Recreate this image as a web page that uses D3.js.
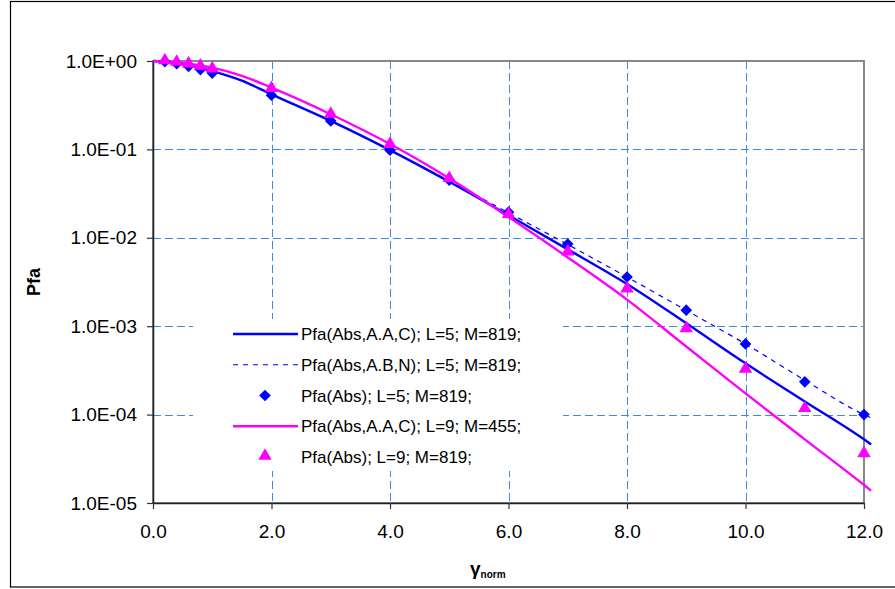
<!DOCTYPE html>
<html>
<head>
<meta charset="utf-8">
<script src="https://cdn.jsdelivr.net/npm/d3@7"></script>
<style>
  body { margin: 0; background: #fff; }
  svg { display: block; font-family: "Liberation Sans", Arial, sans-serif; }
</style>
</head>
<body>
<svg id="chart" width="895" height="589"></svg>
<script>
// ---- data ----
var xTicks = [0, 2, 4, 6, 8, 10, 12];
var yTicks = [1, 1e-1, 1e-2, 1e-3, 1e-4, 1e-5];

var markX = [0.2, 0.4, 0.6, 0.8, 1.0, 2, 3, 4, 5, 6, 7, 8, 9, 10, 11, 12];
// Pfa(Abs); L=5; M=819;  (diamonds)
var pfaL5 = [0.985, 0.93, 0.87, 0.8, 0.73, 0.41, 0.21, 0.098, 0.045, 0.0195, 0.0085, 0.0036, 0.00152, 0.00063, 0.000235, 0.0001];
// Pfa(Abs); L=9; M=819;  (triangles)
var pfaL9 = [0.99, 0.95, 0.91, 0.86, 0.8, 0.48, 0.245, 0.112, 0.046, 0.018, 0.0068, 0.0026, 0.00092, 0.00032, 0.000115, 0.0000355];

var lineX = [0, 0.5, 1, 1.5, 2, 3, 4, 5, 6, 7, 8, 9, 10, 11, 12, 12.12];
// Pfa(Abs,A.A,C); L=5; M=819;
var aacL5 = [1.0, 0.93, 0.77, 0.6, 0.42, 0.21, 0.098, 0.043, 0.018, 0.0074, 0.003, 0.00108, 0.00038, 0.000141, 0.0000525, 0.000046];
// Pfa(Abs,A.B,N); L=5; M=819;
var abnL5 = [1.0, 0.93, 0.77, 0.6, 0.42, 0.21, 0.098, 0.044, 0.0192, 0.0084, 0.0036, 0.00151, 0.00063, 0.000245, 0.0001, 0.000092];
// Pfa(Abs,A.A,C); L=9; M=455;
var aacL9 = [1.0, 0.95, 0.84, 0.68, 0.5, 0.25, 0.115, 0.047, 0.0172, 0.006, 0.002, 0.00059, 0.000174, 0.0000525, 0.000016, 0.0000138];

var legendNames = [
  "Pfa(Abs,A.A,C); L=5; M=819;",
  "Pfa(Abs,A.B,N); L=5; M=819;",
  "Pfa(Abs); L=5; M=819;",
  "Pfa(Abs,A.A,C); L=9; M=455;",
  "Pfa(Abs); L=9; M=819;"
];

var blue = "#0000ff", magenta = "#ff00ff", gridCol = "#3d8ae0";

var svg = d3.select("#chart");
var pLeft = 153, pRight = 864, pTop = 61, pBottom = 503;

var x = d3.scaleLinear().domain([0, 12]).range([pLeft, pRight]);
var y = d3.scaleLog().domain([1e-5, 1]).range([pBottom, pTop]);

// crisp 1px positions
function px(v) { return Math.round(v) + 0.5; }

// outer frame
svg.append("rect")
  .attr("x", 10.5).attr("y", 1.5)
  .attr("width", 890).attr("height", 585.5)
  .attr("fill", "none").attr("stroke", "#000").attr("stroke-width", 1.2);

// gridlines
svg.append("g").selectAll("line").data(xTicks.filter(function(d){ return d > 0 && d < 12; }))
  .enter().append("line")
  .attr("x1", function(d){ return px(x(d)); }).attr("x2", function(d){ return px(x(d)); })
  .attr("y1", pTop).attr("y2", pBottom)
  .attr("stroke", gridCol).attr("stroke-width", 1).attr("stroke-dasharray", "8,4");

svg.append("g").selectAll("line").data(yTicks.filter(function(d){ return d < 1 && d > 1e-5; }))
  .enter().append("line")
  .attr("y1", function(d){ return px(y(d)); }).attr("y2", function(d){ return px(y(d)); })
  .attr("x1", pLeft).attr("x2", pRight)
  .attr("stroke", gridCol).attr("stroke-width", 1).attr("stroke-dasharray", "8,4");

// plot area border (top / right grey)
svg.append("rect")
  .attr("x", pLeft).attr("y", pTop)
  .attr("width", pRight - pLeft).attr("height", pBottom - pTop)
  .attr("fill", "none").attr("stroke", "#888").attr("stroke-width", 2);

// axes
var fmtE = function(d) {
  var e = Math.round(Math.log10(d));
  var s = Math.abs(e) < 10 ? "0" + Math.abs(e) : "" + Math.abs(e);
  return "1.0E" + (e < 0 ? "-" : "+") + s;
};

var yAxis = svg.append("g")
  .attr("transform", "translate(" + pLeft + ",0)")
  .call(d3.axisLeft(y).tickValues(yTicks).tickFormat(fmtE).tickSizeInner(6).tickSizeOuter(0).tickPadding(10));

var xAxis = svg.append("g")
  .attr("transform", "translate(0," + pBottom + ")")
  .call(d3.axisBottom(x).tickValues(xTicks).tickFormat(d3.format(".1f")).tickSizeInner(6).tickSizeOuter(0).tickPadding(16));

[yAxis, xAxis].forEach(function(g) {
  g.selectAll("text").attr("font-size", 19).attr("fill", "#000")
    .attr("font-family", "'Liberation Sans', Arial, sans-serif");
  g.selectAll("line").attr("stroke", "#333").attr("stroke-width", 1.2);
  g.select(".domain").attr("stroke", "#222").attr("stroke-width", 1.5);
});

// axis titles
svg.append("text")
  .attr("transform", "translate(40,282) rotate(-90)")
  .attr("text-anchor", "middle")
  .attr("font-size", 18).attr("font-weight", "bold")
  .text("Pfa");

var xt = svg.append("text")
  .attr("x", 470).attr("y", 575)
  .attr("font-weight", "bold");
xt.append("tspan").attr("font-size", 19).text("γ");
xt.append("tspan").attr("font-size", 10).attr("dy", 3).text("norm");

// series lines
function lineOf(vals) {
  return d3.line()
    .x(function(d, i){ return x(lineX[i]); })
    .y(function(d){ return y(d); })
    .curve(d3.curveMonotoneX)(vals);
}

svg.append("path").attr("d", lineOf(abnL5))
  .attr("fill", "none").attr("stroke", blue).attr("stroke-width", 1.2).attr("stroke-dasharray", "5,5");
svg.append("path").attr("d", lineOf(aacL5))
  .attr("fill", "none").attr("stroke", blue).attr("stroke-width", 2.4);
svg.append("path").attr("d", lineOf(aacL9))
  .attr("fill", "none").attr("stroke", magenta).attr("stroke-width", 2.4);

// markers
var diamond = d3.symbol().type(d3.symbolSquare).size(68);
var triangle = d3.symbol().type(d3.symbolTriangle).size(78);

svg.append("g").selectAll("path").data(pfaL5).enter().append("path")
  .attr("d", diamond)
  .attr("transform", function(d, i){ return "translate(" + x(markX[i]) + "," + y(d) + ") rotate(45)"; })
  .attr("fill", blue);

svg.append("g").selectAll("path").data(pfaL9).enter().append("path")
  .attr("d", triangle)
  .attr("transform", function(d, i){ return "translate(" + x(markX[i]) + "," + (y(d) - 1) + ")"; })
  .attr("fill", magenta);

// legend
var lg = svg.append("g");
lg.append("rect").attr("x", 193).attr("y", 319).attr("width", 370).attr("height", 152).attr("fill", "#fff");

var rowY = d3.scaleLinear().domain([0, 4]).range([334, 457]);
legendNames.forEach(function(name, i) {
  var yy = rowY(i);
  if (i === 0 || i === 1 || i === 3) {
    lg.append("line")
      .attr("x1", 233).attr("x2", 298).attr("y1", yy).attr("y2", yy)
      .attr("stroke", i === 3 ? magenta : blue)
      .attr("stroke-width", i === 1 ? 1.2 : 2.4)
      .attr("stroke-dasharray", i === 1 ? "5,5" : null);
  } else if (i === 2) {
    lg.append("path").attr("d", diamond).attr("fill", blue)
      .attr("transform", "translate(265," + yy + ") rotate(45)");
  } else {
    lg.append("path").attr("d", triangle).attr("fill", magenta)
      .attr("transform", "translate(265," + (yy - 1) + ")");
  }
  lg.append("text")
    .attr("x", 301).attr("y", yy + 6)
    .attr("font-size", 17)
    .text(name);
});
</script>
</body>
</html>
